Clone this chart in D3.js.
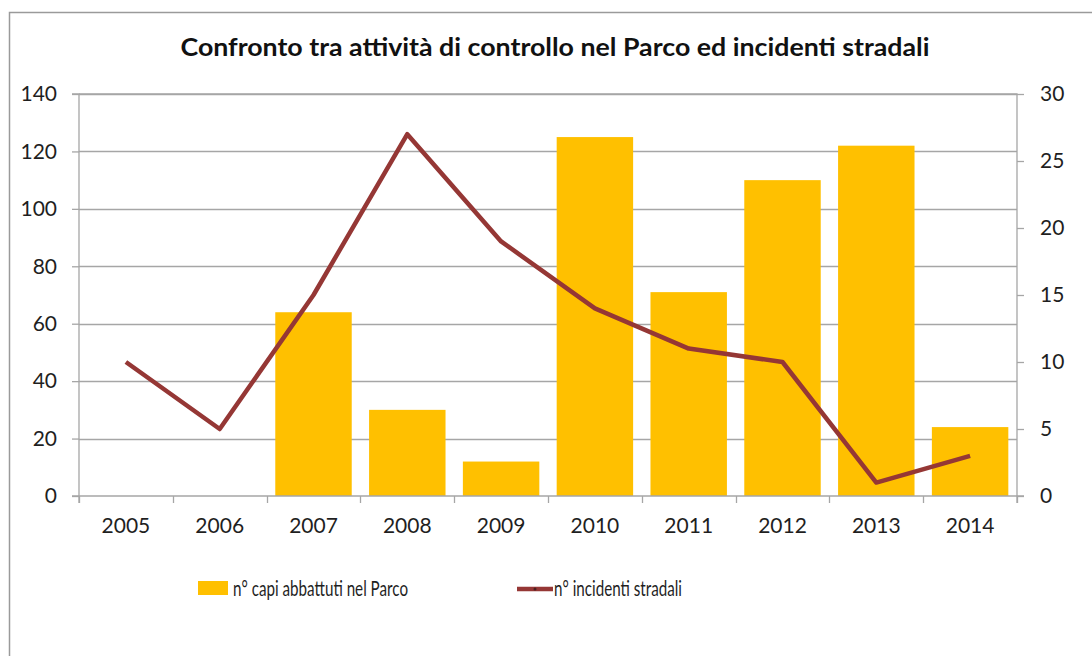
<!DOCTYPE html>
<html><head><meta charset="utf-8">
<script src="https://cdn.jsdelivr.net/npm/d3@7"></script>
<style>body{margin:0;background:#fff;} svg{display:block;}</style>
</head><body>
<script>
const years = ["2005","2006","2007","2008","2009","2010","2011","2012","2013","2014"];
const capiAbbattuti = [null, null, 64, 30, 12, 125, 71, 110, 122, 24];
const incidenti = [10, 5, 15, 27, 19, 14, 11, 10, 1, 3];
const leftTicks = [0,20,40,60,80,100,120,140];
const rightTicks = [0,5,10,15,20,25,30];
const titleText = "Confronto tra attività di controllo nel Parco ed incidenti stradali";
const legendBar = "n° capi abbattuti nel Parco";
const legendLine = "n° incidenti stradali";

const W = 1092, H = 656;
const m = {l:79, r:1017, t:94, b:496};
const font = "Lato, 'Open Sans', sans-serif";
const svg = d3.select("body").append("svg").attr("width", W).attr("height", H);

svg.append("rect").attr("x",9.5).attr("y",12.5).attr("width",W).attr("height",H)
  .attr("fill","#fff").attr("stroke","#9a9a9a").attr("stroke-width",1.5);

const x = d3.scaleBand().domain(years).range([m.l, m.r]).paddingInner(0.185).paddingOuter(0.0925);
const xb = d3.scaleBand().domain(years).range([m.l, m.r]);
const yL = d3.scaleLinear().domain([0,140]).range([m.b, m.t]);
const yR = d3.scaleLinear().domain([0,30]).range([m.b, m.t]);

// gridlines
svg.append("g").selectAll("line").data(leftTicks.filter(d=>d>0)).join("line")
  .attr("x1", m.l).attr("x2", m.r).attr("y1", d=>Math.round(yL(d))+0.5).attr("y2", d=>Math.round(yL(d))+0.5)
  .attr("stroke","#a6a6a6").attr("stroke-width",1.3);

// bars
svg.append("g").selectAll("rect").data(years.map((y,i)=>({y, v:capiAbbattuti[i]})).filter(d=>d.v!=null)).join("rect")
  .attr("x", d=>x(d.y)).attr("width", x.bandwidth())
  .attr("y", d=>yL(d.v)).attr("height", d=>yL(0)-yL(d.v))
  .attr("fill","#FFC000");

// left axis
const gL = svg.append("g").attr("transform",`translate(${m.l},0)`)
  .call(d3.axisLeft(yL).tickValues(leftTicks).tickSize(7).tickPadding(15));
// right axis
const gR = svg.append("g").attr("transform",`translate(${m.r},0)`)
  .call(d3.axisRight(yR).tickValues(rightTicks).tickSize(7).tickPadding(16));
// bottom axis
const gB = svg.append("g").attr("transform",`translate(0,${m.b})`)
  .call(d3.axisBottom(xb).tickSize(0).tickPadding(22));
gB.selectAll(".tick text").attr("dy","0.71em");
// bottom tick marks at boundaries
svg.append("g").selectAll("line").data(years.concat(["end"])).join("line")
  .attr("x1",(d,i)=>Math.round(m.l + i*xb.step())+0.5).attr("x2",(d,i)=>Math.round(m.l + i*xb.step())+0.5)
  .attr("y1", m.b).attr("y2", m.b+7).attr("stroke","#a6a6a6").attr("stroke-width",1.3);

[gL,gR,gB].forEach(g=>{
  g.selectAll(".domain").attr("stroke","#a6a6a6").attr("stroke-width",1.3);
  g.selectAll(".tick line").attr("stroke","#a6a6a6").attr("stroke-width",1.3);
  g.selectAll(".tick text").attr("font-family",font).attr("font-size",21).attr("fill","#1f1f1f");
});
gL.select(".domain").attr("d",`M-7,${m.t}H0V${m.b+7}`);
gR.select(".domain").attr("d",`M-${m.r-m.l},${m.t}H0V${m.b+7}`);
gB.select(".domain").attr("d",`M${m.l-7},0H${m.r+7}`);

// line
const line = d3.line().x((d,i)=>xb(years[i])+xb.bandwidth()/2).y(d=>yR(d));
svg.append("path").datum(incidenti).attr("d", line).attr("fill","none")
  .attr("stroke","#953735").attr("stroke-width",4.5).attr("stroke-linejoin","round");

// title
svg.append("text").attr("x",555).attr("y",56).attr("text-anchor","middle")
  .attr("font-family",font).attr("font-weight","bold").attr("font-size",24).attr("fill","#111")
  .attr("textLength",749).attr("lengthAdjust","spacingAndGlyphs").text(titleText);

// legend
svg.append("rect").attr("x",198).attr("y",581).attr("width",30).attr("height",14).attr("fill","#FFC000");
svg.append("text").attr("x",233).attr("y",596).attr("font-family",font).attr("font-size",21).attr("fill","#1f1f1f")
  .attr("textLength",175).attr("lengthAdjust","spacingAndGlyphs").text(legendBar);
svg.append("line").attr("x1",517).attr("x2",553).attr("y1",589).attr("y2",589)
  .attr("stroke","#953735").attr("stroke-width",4.5);
svg.append("circle").attr("cx",535).attr("cy",589).attr("r",1.5).attr("fill","#4a2020");
svg.append("text").attr("x",554).attr("y",596).attr("font-family",font).attr("font-size",21).attr("fill","#1f1f1f")
  .attr("textLength",128).attr("lengthAdjust","spacingAndGlyphs").text(legendLine);
</script>
</body></html>
